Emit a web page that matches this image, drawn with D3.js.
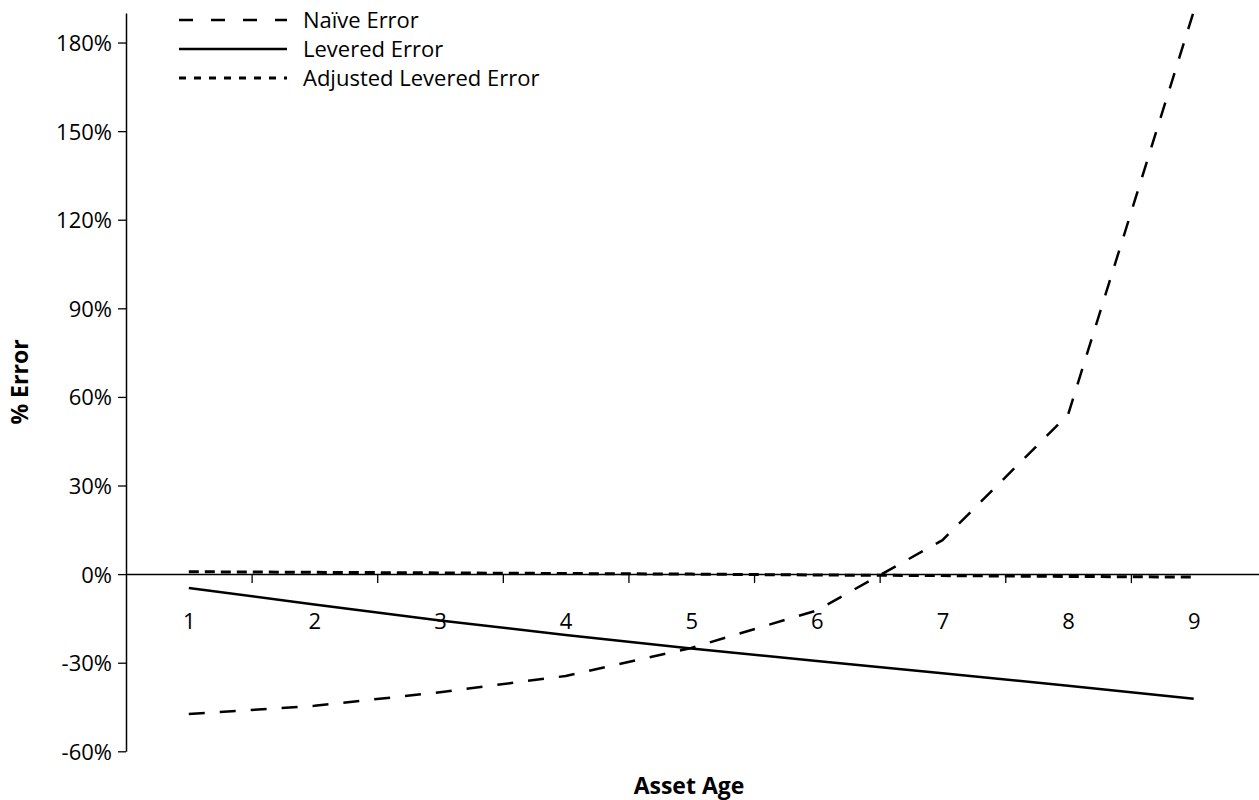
<!DOCTYPE html>
<html>
<head>
<meta charset="utf-8">
<script src="https://cdn.jsdelivr.net/npm/d3@7"></script>
<style>
  html, body { margin: 0; padding: 0; background: #fff; }
  svg { display: block; }
  text { font-family: "Open Sans", "Noto Sans", sans-serif; fill: #000; }
</style>
</head>
<body>
<svg id="chart" width="1259" height="800"></svg>
<script>
const ages = [1, 2, 3, 4, 5, 6, 7, 8, 9];
const naiveError = [-47.4, -44.6, -40.0, -34.5, -25.0, -12.3, 11.5, 54.0, 190.5];
const leveredError = [-4.7, -10.3, -15.7, -20.6, -25.2, -29.4, -33.6, -37.8, -42.2];
const adjustedLeveredError = [0.8, 0.6, 0.4, 0.2, 0.0, -0.3, -0.5, -0.8, -1.0];
const yTicks = [-60, -30, 0, 30, 60, 90, 120, 150, 180];
const xTickMarks = [1.5, 2.5, 3.5, 4.5, 5.5, 6.5, 7.5, 8.5];
const seriesNames = ["Naïve Error", "Levered Error", "Adjusted Levered Error"];

const svg = d3.select("#chart");
const x = d3.scaleLinear().domain([0.5, 9.52]).range([126, 1259]);
const y = d3.scaleLinear().domain([-60, 190]).range([751.3, 13]);
const FS = "22px";

// Y axis
const yAxis = svg.append("g")
  .attr("transform", "translate(126,0)")
  .call(d3.axisLeft(y).tickValues(yTicks).tickFormat(d => d + "%").tickSize(8).tickPadding(6).tickSizeOuter(0));
yAxis.select(".domain").attr("stroke-width", 1.5);
yAxis.selectAll(".tick line").attr("stroke-width", 1.3);
yAxis.selectAll("text").style("font-size", FS).attr("dy", "0.36em");

// X axis (ticks between categories)
const xAxis = svg.append("g")
  .attr("transform", `translate(0,${y(0)})`)
  .call(d3.axisBottom(x).tickValues(xTickMarks).tickFormat("").tickSize(9).tickSizeOuter(0));
xAxis.select(".domain").attr("stroke-width", 1.5);
xAxis.selectAll(".tick line").attr("stroke-width", 1.3);

// X category labels
const xLabels = svg.append("g")
  .attr("transform", `translate(0,${y(0)})`)
  .call(d3.axisBottom(x).tickValues(ages).tickFormat(d3.format("d")).tickSize(0).tickPadding(39));
xLabels.select(".domain").remove();
xLabels.selectAll("text").style("font-size", FS);

// Lines
const line = d3.line().x((d, i) => x(ages[i])).y(d => y(d));
const styles = [
  { data: naiveError, dash: "16,15", width: 2.5 },
  { data: leveredError, dash: null, width: 2.5 },
  { data: adjustedLeveredError, dash: "10,6", width: 3 }
];
styles.forEach(s => {
  svg.append("path")
    .datum(s.data)
    .attr("d", line)
    .attr("fill", "none")
    .attr("stroke", "#000")
    .attr("stroke-width", s.width)
    .attr("stroke-dasharray", s.dash);
});

// Legend
const legendDash = ["14,18", null, "7,8"];
const legendY = [20, 49, 78];
const legend = svg.append("g");
seriesNames.forEach((name, i) => {
  legend.append("line")
    .attr("x1", 179).attr("x2", 287)
    .attr("y1", legendY[i]).attr("y2", legendY[i])
    .attr("stroke", "#000").attr("stroke-width", i === 2 ? 3 : 2.5)
    .attr("stroke-dasharray", legendDash[i]);
  legend.append("text")
    .attr("x", 303).attr("y", legendY[i])
    .attr("dy", "0.36em")
    .style("font-size", FS)
    .text(name);
});

// Axis titles
svg.append("text")
  .attr("x", 689).attr("y", 786)
  .attr("text-anchor", "middle").attr("dy", "0.36em")
  .style("font-size", "23px").style("font-weight", "bold")
  .text("Asset Age");
svg.append("text")
  .attr("transform", "translate(20,382) rotate(-90)")
  .attr("text-anchor", "middle").attr("dy", "0.36em")
  .style("font-size", "23px").style("font-weight", "bold")
  .text("% Error");
</script>
</body>
</html>
